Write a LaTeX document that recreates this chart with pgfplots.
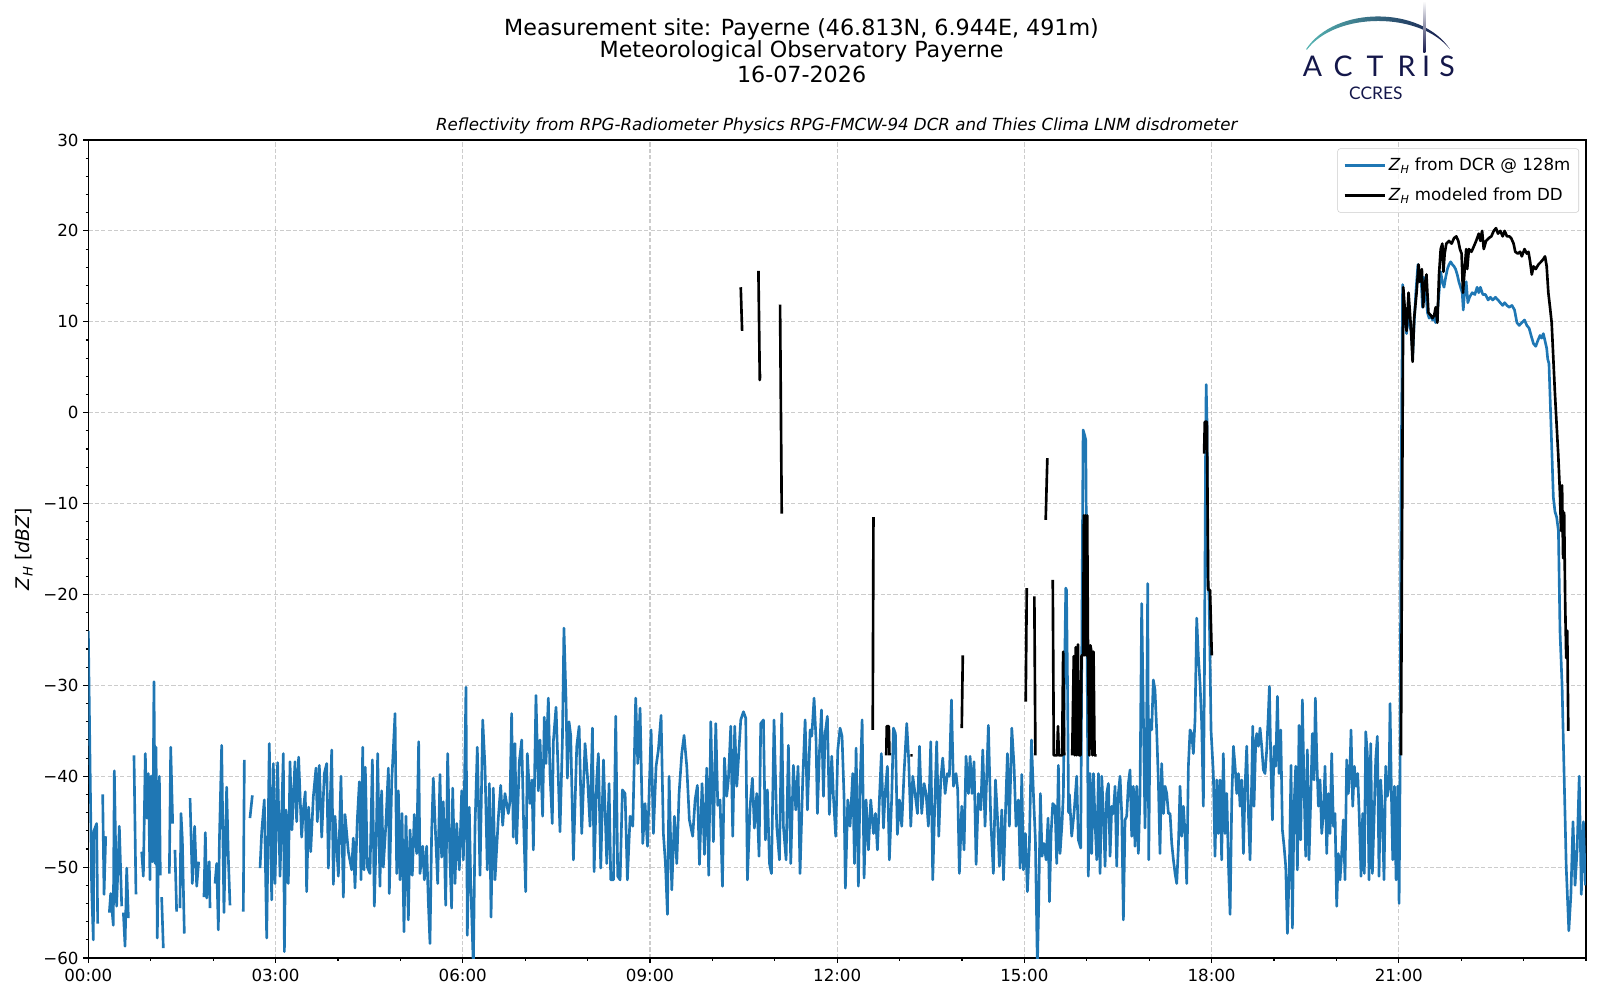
\documentclass[border=0pt]{standalone}
\usepackage{fontspec}
\setmainfont{DejaVu Sans}
\newfontfamily\logofont{Lato}
\usepackage{pgfplots}
\usepackage{pgfplotstable}
\pgfplotsset{compat=1.18}
\definecolor{mplblue}{HTML}{1F77B4}
\definecolor{actnavy}{HTML}{14174A}
\definecolor{actteal}{HTML}{55B4B2}
\begin{document}
\pgfplotstableread{
x y
0 -24
3.2 -52.3
4.8 -58
5.4 -46
8.0 -45.2
9.0 -56.2
11 nan
13.8 -42
15.1 -53
16.7 -46.6
18 nan
20.2 -55
21.5 -52.9
24.0 -56.4
25.0 -39.4
27.2 -54.3
29.8 -45.5
32.1 -54.3
33 nan
33.7 -55
35.3 -58.7
36.9 -50.1
38.5 -55.6
40 nan
43.9 -37.7
45.8 -53
48 nan
51.3 -48.3
52.9 -51
54.8 -37.5
56.1 -44.6
57.7 -39.7
59.3 -51.4
60.3 -40
61.9 -49.4
63.1 -29.6
64.4 -49.6
65.1 -36.8
66.3 -57.8
68.3 -40
69.2 -50.9
69.8 nan
70.5 -53.3
72.1 -58.9
74 nan
77.9 -50.7
79.2 -36.8
81.1 -45.2
82 nan
83.3 -48.1
84.9 -54.9
86 nan
88.1 -54.5
89.1 -44.1
90.4 -47
92.3 -57.3
94 nan
97.8 -42.4
100.0 -51.8
102.2 -45.5
104.2 -52.1
106.1 -49.4
108 nan
111.2 -53.3
112.5 -46.2
113.8 -53.4
116.3 -49.4
117.0 -54.5
119 nan
121.8 -51.8
123.4 -49.6
125.0 -56.9
126.0 -47.2
128.2 -36.6
130.4 -55
133.0 -41.2
134.6 -48.9
136.2 -54.2
140 nan
149.0 -54.9
150.0 -38.2
152 nan
155.4 -44.6
157.7 -42.1
160 nan
165.1 -50.1
166.7 -46.1
169.2 -42.6
171.5 -57.8
174.0 -36.4
176.3 -53.6
177.9 -38.6
179.5 -51.8
182.0 -38.5
184.3 -51
187.5 -37.5
188.5 -59.3
190.1 -43.7
192.3 -51.8
193.9 -38.4
195.8 -45.9
198.7 -38.4
200.3 -45
202.2 -37.9
205.1 -46.7
206.7 -43.7
208.6 -41.7
209.9 -52.7
211.8 -43.4
213.8 -48.3
216.3 -42.3
218.9 -39.1
220.2 -45
222.1 -38.8
224.4 -46.7
226.9 -39.7
229.2 -38.6
230.8 -50.1
234.0 -37.1
235.6 -51.9
237.2 -44.4
238.8 -47.7
240.4 -51
242.9 -40
245.2 -53.3
246.8 -44.2
250.0 -48.3
253.2 -50.3
254.8 -46.8
256.4 -52.3
258.6 -44.8
260.6 -40.6
262.2 -51.4
263.8 -36.8
265.1 -50.3
266.3 -39
268.3 -50
270.8 -50.7
273.1 -38.2
275.0 -54.3
277.2 -44.8
278.2 -37.5
280.4 -52.1
282.0 -41.6
283.6 -50
285.9 -45.7
288.5 -39.1
289.4 -52.9
291.7 -40.6
293.3 -36.9
294.9 -33.1
296.5 -50.7
298.1 -41.6
299.7 -51.4
301.6 -44.1
303.5 -57.1
305.4 -44.4
307.7 -55.8
309.3 -45.9
311.5 -50.9
313.4 -44.2
315.7 -48.5
317.6 -36.2
318.9 -50.7
321.5 -47.7
323.1 -51.4
325.3 -47.7
326.9 -53.8
328.5 -58.4
330.1 -46.1
331.7 -40.2
333.6 -45.7
335.9 -51.8
338.1 -39.8
339.7 -48.9
341.3 -42.8
343.6 -54.2
345.5 -37.5
347.7 -49.2
349.3 -54.5
350.3 -41.3
352.6 -51.8
354.2 -45.2
356.7 -50.3
359.0 -41.6
360.6 -49.2
363.1 -30.2
364.4 -57.5
366.3 -43.4
367.6 -51.4
370.2 -61
371.8 -45.5
374.0 -36.8
376.6 -50.9
379.2 -33.8
381.4 -39
383.6 -50.3
385.6 -40.8
387.2 -55.5
389.4 -41.3
391.0 -51.4
394.2 -44.6
396.5 -41
398.4 -45.4
400.6 -41.9
403.8 -44.1
405.4 -42.8
407.0 -33.1
408.6 -46.7
410.2 -36.4
411.8 -47.4
414.4 -38.4
416.7 -36
418.3 -44.1
420.5 -52.7
422.1 -37.5
424.7 -43
426.6 -40.4
427.9 -48.1
430.4 -31.1
432.7 -41.6
434.3 -36
436.8 -44.4
438.4 -33.5
440.0 -38.6
442.3 -31.4
443.9 -39.7
446.1 -45.2
447.1 -36.2
449.7 -32.4
451.9 -40.2
453.5 -46.1
455.8 -36.2
457.3 -23.7
459.3 -31.6
460.6 -40.2
462.2 -34
463.8 -35.5
466.4 -49.2
469.6 -36.7
471.9 -34.5
474.4 -46.3
477.6 -36.4
479.9 -40
482.4 -45.5
484.7 -34.7
486.3 -50.5
488.8 -40.4
490.4 -37.5
492.7 -50.1
495.3 -38.2
498.5 -49.6
500.7 -40.8
502.3 -51.4
504.9 -51.4
507.1 -33.4
509.0 -51
511.3 -51.4
513.5 -41.5
516.1 -41.9
518.3 -51.4
520.9 -44.4
523.5 -45.5
526.3 -31.4
528.3 -38.6
530.5 -32.5
533.1 -47.4
535.3 -43
537.6 -47.7
541.1 -34.9
543.3 -46.3
545.9 -38.9
548.1 -37.1
550.7 -33.3
552.9 -46.3
554.9 -49.6
556.8 -55.2
558.4 -40
561.0 -52.5
563.5 -44.4
565.8 -49.6
568.0 -41.9
570.6 -37.5
572.8 -35.5
575.4 -38.9
577.9 -44.8
581.1 -46.6
583.4 -42.6
585.6 -41
587.6 -49.7
590.1 -40.8
592.4 -48.6
594.6 -39.1
596.5 -50.9
598.5 -34
601.0 -47.2
603.3 -34.2
605.2 -43.2
607.4 -42.6
609.7 -52.1
611.6 -38
613.8 -42.2
615.4 -40.4
617.7 -34.5
619.6 -46.6
621.5 -34.5
623.5 -41.1
625.4 -37.5
627.3 -33.8
629.9 -32.9
632.1 -33.6
633.7 -51.4
636.3 -43.3
638.5 -40.2
640.4 -45.7
642.7 -41.9
644.9 -48.8
646.5 -34.2
649.1 -33.8
651.0 -47
652.9 -41.5
654.9 -49.6
656.8 -50.7
659.3 -33.8
661.9 -45.5
664.5 -49.2
666.7 -33.1
668.3 -45.5
670.9 -49.2
673.1 -36.6
675.4 -49.6
677.9 -38.8
680.2 -43.7
682.4 -38.9
684.3 -50.7
686.9 -40.4
689.2 -33.8
691.4 -43.7
694.0 -34.9
695.6 -35.6
697.8 -31.4
699.7 -36
701.0 -44.1
702.9 -37.5
704.9 -32.7
706.8 -42.2
708.4 -35.3
710.6 -33.4
712.5 -44.2
714.8 -37.8
716.4 -42.2
718.6 -46.6
720.6 -37.1
722.8 -34.7
724.7 -35.6
726.6 -42.2
727.9 -52.3
730.2 -42.6
732.4 -45.5
735.0 -39.7
736.6 -49.6
738.2 -36.9
740.4 -52.1
742.0 -41.1
744.0 -33.8
745.9 -51.2
747.8 -42.6
750.1 -48.1
752.3 -42.6
754.9 -46.3
756.8 -44.1
758.7 -48.1
760.6 -42.6
762.5 -37.5
764.5 -45.7
766.1 -41.9
768.3 -38.9
770.2 -49.2
772.5 -42.2
774.1 -34.7
776.0 -35.3
777.9 -46.4
779.9 -42.6
782.1 -45.5
784.3 -39.7
786.9 -34.2
788.8 -38.2
790.8 -45.5
792.7 -40
794.9 -41.9
797.2 -44.1
799.1 -36.7
801.3 -44.1
803.6 -40.8
805.5 -41.9
807.7 -45.5
810.0 -36.2
811.9 -51.4
813.8 -43.3
815.7 -36.2
817.7 -46.6
819.6 -40.4
821.5 -38
823.8 -41.9
826.0 -39.7
827.9 -40
829.9 -31.6
831.8 -41.1
834.3 -39.7
835.9 -41.5
837.5 -50.7
839.8 -43.3
842.0 -48.1
843.9 -37.8
846.2 -41.9
847.8 -37.8
849.7 -41.9
851.6 -38.4
853.6 -49.7
855.8 -41.9
858.1 -43.7
860.0 -37.1
862.2 -45.5
863.8 -40
865.4 -34.4
867.7 -44.8
870.2 -50.7
872.2 -40.4
874.1 -44.4
876.0 -49.9
878.3 -43.7
879.9 -51.4
881.8 -44.1
883.7 -37.5
885.6 -45.5
887.9 -34.7
890.1 -38.9
892.0 -45.5
894.3 -42.6
895.9 -50.1
897.5 -39.8
899.1 -50.3
901.0 -46.3
902.9 -52.7
904.8 -47.7
906.8 -36
908.7 -41.9
910.6 -47
912.5 -61
913.8 -54
915.4 -41.9
917.0 -48.8
918.9 -47.4
920.9 -49.2
922.8 -44.6
924.1 -53.8
925.7 -46.3
927.3 -43
929.5 -43.3
931.1 -49.6
932.7 -38.8
934.3 -48.5
936.2 -45.2
937.5 -41.9
938.5 -30
939.8 -19.3
940.5 -19.5
941.5 -30
942.5 -44
943.3 -42
945.5 -46.6
947.8 -44
950.3 -40
951.9 -47
954.2 -47.9
955.5 -20
956.5 -1.9
958.0 -2.5
959.0 -3
960.0 -20
961.5 -51
963.1 -39.7
964.7 -48.5
966.4 -39.7
968.0 -45.2
969.6 -49.2
971.2 -39.7
972.8 -50.7
974.4 -40
976.0 -44.1
977.6 -49.9
979.2 -41.9
980.8 -40.8
982.4 -48.8
984.0 -43.3
985.6 -44.1
987.2 -41.1
988.8 -49.9
990.4 -41.9
992.0 -40
993.6 -44.1
995.2 -55.8
996.8 -44.8
998.4 -44.4
1000.0 -40.8
1001.6 -39.3
1003.2 -46.6
1004.8 -41.1
1006.4 -47.7
1008.0 -41.1
1009.6 -48.5
1011.2 -41.9
1012.8 -21
1014.4 -33.1
1016.0 -45.7
1017.6 -33.8
1018.6 -18.8
1019.6 -49.2
1020.8 -33.8
1022.4 -34.9
1024.0 -29.4
1025.6 -30.5
1027.2 -34.9
1028.8 -40.4
1030.4 -48.5
1032.0 -38.6
1033.7 -44.1
1035.3 -41.1
1036.9 -41.9
1038.5 -44.1
1040.1 -44.1
1041.7 -47.4
1043.3 -49.2
1044.9 -50.7
1046.5 -51.8
1048.1 -47.7
1049.7 -41.1
1051.3 -46.6
1052.9 -43.3
1054.5 -46.3
1056.1 -51.8
1057.7 -38.9
1059.3 -34.9
1060.9 -35.3
1062.5 -37.5
1064.1 -33.8
1065.7 -22.6
1067.3 -26.8
1068.9 -29.8
1070.5 -34.2
1072.1 -43.3
1073.1 -29.4
1074.2 -5
1074.8 3.1
1075.6 -1
1076.5 -19
1077.5 -20
1078.5 -27
1079.5 -35
1081.7 -39.7
1083.3 -48.8
1085.0 -40.4
1086.5 -46.3
1088.1 -40.4
1089.7 -49.2
1091.3 -37.5
1093.0 -46.3
1094.6 -41.9
1096.2 -49.6
1097.8 -55.2
1099.4 -42.6
1101.0 -36.7
1102.6 -38.9
1104.2 -41.9
1105.8 -39.7
1107.4 -43.3
1109.0 -40.4
1110.6 -48.5
1112.2 -41.1
1113.8 -36.7
1115.4 -44.1
1117.0 -49.2
1118.6 -40.4
1119.6 -34.5
1120.8 -43.3
1122.4 -36.4
1123.4 -35.3
1125.0 -36.7
1126.6 -34.7
1128.2 -36.7
1129.8 -39.3
1131.4 -39.7
1133.0 -37.1
1134.6 -33.1
1135.6 -30.1
1136.9 -38.2
1138.5 -44.8
1140.1 -36.7
1141.7 -38.9
1143.3 -31.2
1144.9 -39.7
1146.5 -34.9
1148.1 -45.9
1149.7 -47.7
1151.3 -49.9
1152.9 -57.3
1154.8 -49.9
1156.4 -38.8
1157.7 -56.7
1159.3 -43.3
1160.9 -38.9
1162.5 -50.3
1164.1 -34.4
1165.7 -47
1167.3 -31.6
1168.9 -41.1
1170.5 -48.8
1172.1 -37.1
1173.7 -49.2
1175.3 -42.6
1176.9 -35.3
1178.5 -40.4
1179.8 -31.4
1181.1 -37.8
1182.7 -43.3
1184.3 -40.4
1185.9 -46.3
1187.5 -44.1
1189.1 -38.9
1190.7 -48.5
1192.3 -41.9
1193.9 -46.3
1195.5 -37.5
1197.1 -45.5
1198.7 -44.1
1200.3 -54.3
1201.9 -48.5
1203.5 -51.4
1205.1 -48.5
1206.7 -44.8
1208.3 -51.4
1209.9 -38.2
1211.5 -41.9
1213.1 -38.9
1214.1 -34.9
1215.7 -43.3
1217.3 -38.9
1218.9 -41.1
1220.5 -39.7
1222.1 -44.8
1223.7 -51
1225.3 -44.1
1226.9 -50.7
1228.2 -35.1
1229.8 -37.5
1231.4 -51.4
1233.0 -36.4
1234.6 -50.7
1236.2 -44.8
1237.8 -38.2
1239.4 -35.6
1241.0 -51
1242.6 -40.4
1244.2 -44.1
1245.8 -51.4
1247.4 -38.9
1249.0 -42.2
1250.6 -41.1
1251.6 -32
1252.9 -41.9
1254.2 -49.2
1255.8 -41.1
1257.4 -51.4
1259.0 -41.1
1260.3 -54
1261.2 -40.4
1262.1 -10
1263.7 14.1
1266.2 9.9
1267.5 8.7
1269.4 12.1
1270.7 9.6
1272.3 8.7
1273.3 6.2
1274.8 9.9
1276.4 13.2
1278.4 16.3
1279.6 14.4
1281.2 15.5
1282.8 11.6
1284.1 14.9
1286.0 13.2
1287.6 11
1289.2 10.4
1290.8 10.7
1292.4 10.2
1294.0 10.4
1295.5 9.9
1297.1 11
1298.7 13.2
1300.3 15.5
1301.9 14.4
1303.5 13.8
1305.1 14.9
1306.7 15.8
1308.3 16.3
1309.9 16.6
1311.5 16.3
1313.1 16.1
1314.6 15.8
1316.2 15.2
1317.8 14.4
1319.4 13.8
1321.0 13.2
1322.0 11.3
1323.2 13.2
1324.8 14.4
1326.4 12.1
1328.0 12.7
1330.6 13.2
1333.1 13
1335.3 13.8
1336.9 13.2
1338.5 13.8
1340.8 13
1343.3 13
1345.9 12.4
1348.1 12.7
1350.3 12.4
1352.9 12.7
1355.4 12.4
1357.6 12.1
1359.9 11.8
1361.8 12.1
1364.0 11.8
1366.2 11.6
1368.8 11.8
1371.3 11.3
1373.6 9.9
1375.8 9.6
1378.3 9.9
1380.9 10.2
1383.1 9.6
1385.3 9.3
1387.2 8.5
1389.5 7.6
1391.7 7.3
1393.6 7.9
1395.8 8.5
1397.4 8.2
1399.0 8.7
1400.6 7.9
1402.2 7.1
1403.2 5.9
1404.4 5.4
1405.4 2
1407.0 -3.6
1408.6 -9.3
1410.2 -10.9
1411.8 -11.5
1413.5 -13
1415.0 -24
1417.0 -30
1419.0 -40
1421.0 -50
1423.5 -57
1425.5 -53
1427.5 -45
1429.5 -52
1431.5 -48
1433.5 -40
1435.5 -53
1437.5 -45
1439.5 -52
}\bluedata
\begin{tikzpicture}
\useasboundingbox (0,0) rectangle (1152pt,720pt);
\begin{axis}[
  at={(63.6pt,30.2pt)}, anchor=south west,
  scale only axis, width=1078.3pt, height=589pt,
  xmin=0, xmax=1440, ymin=-60, ymax=30,
  xtick={0,180,...,1260},
  xticklabels={00:00,03:00,06:00,09:00,12:00,15:00,18:00,21:00},
  minor xtick={60,120,...,1440},
  ytick={-60,-50,...,30},
  yticklabels={−60,−50,−40,−30,−20,−10,0,10,20,30},
  minor ytick={-58,-56,...,28},
  tick align=outside, tick pos=left,
  major tick length=3.5pt, minor tick length=2pt,
  every tick/.style={black, line width=0.8pt},
  axis line style={line width=0.8pt},
  grid=major,
  major grid style={black!20, line width=0.8pt, dash pattern=on 3pt off 1.6pt},
  ticklabel style={font=\fontsize{12}{14}\selectfont},
  xticklabel style={yshift=-1pt},
  ylabel={\textit{Z}\textsubscript{\textit{H}} [\textit{dBZ}]},
  ylabel style={at={(axis description cs:-0.043,0.5)}, anchor=center, font=\fontsize{13.5}{16}\selectfont},
  every axis title shift=0pt,
  title={\textit{Reflectivity from RPG-Radiometer Physics RPG-FMCW-94 DCR and Thies Clima LNM disdrometer}},
  title style={at={(axis description cs:0.5,1)}, anchor=center, yshift=10.1pt, font=\fontsize{12}{14}\selectfont},
  legend style={at={(1,1)}, anchor=north east, xshift=-5pt, yshift=-6pt,
    draw=black!20, rounded corners=2pt, fill=white, fill opacity=0.8, text opacity=1,
    font=\fontsize{12}{14}\selectfont, inner xsep=4pt, inner ysep=5pt, row sep=6.7pt,
    cells={anchor=west}},
  legend image code/.code={\draw[#1] (0pt,0pt) -- (29pt,0pt);},
  unbounded coords=jump,
]
\addplot[mplblue, line width=1.9pt, line join=round] table[x=x,y=y] {\bluedata};
\addlegendentry{\textit{Z}\textsubscript{\textit{H}} from DCR @ 128m}
\addplot[black, line width=1.9pt, line join=round] coordinates {
(627.3,13.8) (628.6,9.0) (630,nan)
(644.3,15.6) (645.6,3.6) (646.0,4.2) (647,nan)
(665.1,11.9) (666.7,-11.1) (668,nan)
(754.2,-34.9) (754.9,-11.5) (756,nan)
(767.2,-37.7) (767.7,-34.5) (769.7,-34.5) (770.3,-37.7) (771,nan)
(790.5,-37.7) (792.5,-37.7) (794,nan)
(839.8,-34.7) (840.8,-26.7) (842,nan)
(901.3,-31.8) (902.3,-19.3) (904,nan)
(909.6,-20.2) (910.6,-37.7) (912,nan)
(920.5,-11.8) (922.1,-5) (924,nan)
(927.3,-18.4) (928.3,-37.7) (931.5,-37.7) (932.3,-34.5) (933.2,-37.7) (936.3,-37.7) (937.3,-26.3) (938.3,-37.7) (940,nan)
(946,-37.7) (947.5,-26.8) (948.5,-37.7) (949.3,-25.8) (950.3,-37.7) (951.5,-25.5) (952.5,-37.7) (954,-37.7) (955,-26.7) (956.5,-26.7) (957.2,-11.3) (958,-26.7) (958.8,-11.3) (959.6,-26.7) (960.4,-11.3) (961.2,-26.7) (962.5,-37.7) (963.5,-25.6) (964.5,-26.3) (965.5,-37.7) (966.5,-26.3) (967.5,-37.7) (969.5,-37.7) (971,nan)
(1072.8,-4.5) (1073.5,-1) (1075.5,-1) (1076.8,-19.5) (1078.5,-19.5) (1080.2,-26.7) (1082,nan)
(1262.1,-37.7) (1264.3,13.8) (1266.2,10.7) (1267.5,9) (1269.4,13.2) (1271.7,9.3) (1273.3,5.6) (1274.8,10.4) (1277.1,13.2) (1279,16.3) (1280.3,14.4) (1282.2,15.8) (1283.4,11.6) (1284.7,13.8) (1286.6,15.2) (1288.5,11) (1290.8,10.7) (1292.4,10.4) (1294,10.7) (1295.5,11.6) (1297.1,9.9) (1298.7,15.2) (1300.3,18) (1301.9,18.6) (1302.9,15.5) (1304.1,17.5) (1305.7,18.6) (1308.3,18.9) (1310.8,18.6) (1313.1,19.2) (1315.3,19.4) (1317.2,18.9) (1318.8,18) (1320.4,17.5) (1321.7,13.2) (1323.2,15.5) (1324.8,18) (1325.8,15.8) (1327.4,18) (1329.9,17.7) (1332.2,18.3) (1334.4,18.9) (1336.9,19.7) (1338.5,18.9) (1340.1,20) (1341.7,18) (1343.9,18.9) (1346.5,19.2) (1349,19.4) (1351.3,20) (1353.5,20.3) (1355.4,19.7) (1357.6,20) (1359.9,19.4) (1361.8,20) (1364,19.4) (1366.2,19.4) (1368.1,19.2) (1370.4,18.6) (1372,17.7) (1374.5,17.5) (1376.7,17.7) (1378.3,17.2) (1380.9,18) (1383.1,17.5) (1384.7,17.7) (1386.3,16.6) (1387.9,15.2) (1389.5,16.1) (1391.7,15.8) (1394.2,16.3) (1396.8,16.6) (1399,16.9) (1400.6,17.2) (1402.2,16.1) (1403.8,13.2) (1405.4,11.6) (1407,9.9) (1410.2,2) (1411.8,-1.4) (1413.4,-4.8) (1415,-9) (1416,-13) (1417,-8) (1418,-16) (1419,-11) (1420,-21) (1421,-27) (1422,-24) (1423,-35)
};
\addlegendentry{\textit{Z}\textsubscript{\textit{H}} modeled from DD}
\end{axis}
\begin{scope}[x=0.72pt, y=-0.72pt, shift={(0pt,720pt)}]
  \node[font=\fontsize{16}{19}\selectfont] at (801.6,29) {Measurement site: Payerne (46.813N, 6.944E, 491m)};
  \node[font=\fontsize{16}{19}\selectfont] at (801.6,51.5) {Meteorological Observatory Payerne};
  \node[font=\fontsize{16}{19}\selectfont] at (801.6,74) {16-07-2026};
  % ACTRIS logo
  \shade[left color=actteal, middle color=actnavy!55!actteal, right color=actnavy]
    (1306,49.3) .. controls (1335,5.5) and (1421,5.5) .. (1450,49.3)
    .. controls (1420,11.5) and (1336,11.5) .. (1307,49.6) -- cycle;
  \shade[top color=white, bottom color=actnavy] (1423.4,1) rectangle (1425.4,53);
  \begin{scope}[every node/.style={font=\logofont\fontsize{20.5}{24}\selectfont, text=actnavy, anchor=base, inner sep=0pt}]
    \node at (1312.5,77) {A};
    \node at (1343,77) {C};
    \node at (1375,77) {T};
    \node at (1406.5,77) {R};
    \node at (1426,77) {I};
    \node at (1447,77) {S};
  \end{scope}
  \node[font=\logofont\fontsize{12.5}{15}\selectfont, text=actnavy, anchor=base, inner sep=0pt] at (1375.8,99.3) {CCRES};
\end{scope}
\end{tikzpicture}
\end{document}
